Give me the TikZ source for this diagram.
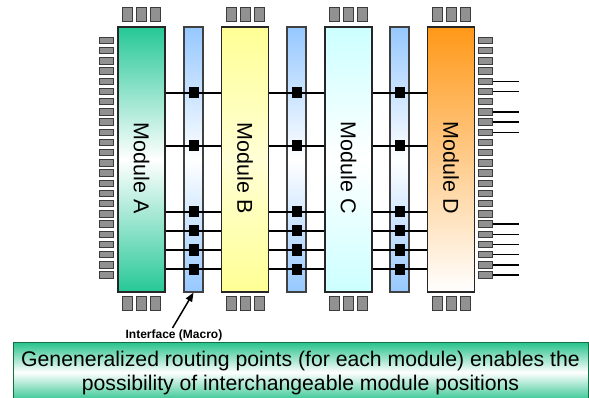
\documentclass[tikz,border=0pt]{standalone}
\usepackage{fontspec}
\setmainfont{Liberation Sans}
\usetikzlibrary{arrows.meta}
\definecolor{modgreen}{RGB}{38,200,150}
\definecolor{modyellow}{RGB}{255,255,150}
\definecolor{modcyan}{RGB}{204,255,255}
\definecolor{modorange}{RGB}{255,152,24}
\definecolor{ifblue}{RGB}{150,200,255}
\definecolor{padgray}{RGB}{145,145,145}
\definecolor{padedge}{RGB}{60,60,60}
\definecolor{boxgreen}{RGB}{40,195,140}
\definecolor{boxedge}{RGB}{20,110,70}
\tikzset{
  module/.style={draw=black!85, line width=1.1pt, minimum width=47pt, minimum height=265pt, inner sep=0pt},
  iface/.style={draw=black!75, line width=1.1pt, minimum width=19pt, minimum height=265pt, inner sep=0pt, top color=ifblue, bottom color=ifblue, middle color=white},
  modlabel/.style={rotate=-90, font=\fontsize{21.5}{21.5}\selectfont, inner sep=0pt},
  tpad/.style={draw=padedge, fill=padgray, line width=1pt, minimum width=10pt, minimum height=14pt, inner sep=0pt},
  spad/.style={draw=padedge, fill=padgray, line width=1pt, minimum width=14pt, minimum height=6.5pt, inner sep=0pt},
  rpt/.style={fill=black, minimum width=10pt, minimum height=11pt, inner sep=0pt},
  route/.style={line width=1.4pt, black},
  padline/.style={line width=1.4pt, black},
  boxtext/.style={font=\fontsize{21.2}{21.2}\selectfont, anchor=base, inner sep=0pt}
}
\begin{document}
\begin{tikzpicture}[x=1pt,y=-1pt]
\useasboundingbox (0,0) rectangle (589,398);
% modules
\node[module, top color=modgreen, bottom color=modgreen, middle color=white] (A) at (141.5,159.5) {};
\node[module, top color=modyellow, bottom color=modyellow, middle color=white!60!modyellow] (B) at (245,159.5) {};
\node[module, top color=modcyan, bottom color=modcyan, middle color=white] (C) at (348.5,159.5) {};
\node[module, top color=modorange, bottom color=white] (D) at (451,159.5) {};
% interfaces
\node[iface] (I1) at (193.5,159.5) {};
\node[iface] (I2) at (296.5,159.5) {};
\node[iface] (I3) at (399.5,159.5) {};
% labels
\node[modlabel] (LA) at (141.5,168) {Module A};
\node[modlabel] (LB) at (245,168) {Module B};
\node[modlabel] (LC) at (348.5,168) {Module C};
\node[modlabel] (LD) at (451,168) {Module D};
% top and bottom pads
\foreach \m/\cx in {A/141.5,B/245,C/348.5,D/451}{
  \foreach \k/\dx in {1/-14,2/0,3/14}{
    \node[tpad] (t\m\k) at (\cx+\dx,14.5) {};
    \node[tpad] (b\m\k) at (\cx+\dx,303.5) {};
  }
}
% side pads
\foreach \i in {0,...,23}{
  \node[spad] (lp\i) at (106.5,40.5+10.2*\i) {};
  \node[spad] (rp\i) at (485.5,40.5+10.2*\i) {};
}
\foreach \i in {4,5,7,8,9,18,19,20,21,22,23}{
  \coordinate (re\i) at (519,40.5+10.2*\i);
  \draw[padline] (rp\i.east) -- (re\i);
}
% routing lines and points
\foreach \j/\y in {1/93,2/146,3/212,4/231,5/250,6/269}{
  \node[rpt] (p1\j) at (193.5,\y) {};
  \node[rpt] (p2\j) at (296.5,\y) {};
  \node[rpt] (p3\j) at (399.5,\y) {};
  \draw[route] (A.east |- p1\j) -- (B.west |- p1\j);
  \draw[route] (B.east |- p2\j) -- (C.west |- p2\j);
  \draw[route] (C.east |- p3\j) -- (D.west |- p3\j);
  \node[rpt] at (p1\j) {};
  \node[rpt] at (p2\j) {};
  \node[rpt] at (p3\j) {};
}
% interface annotation
\node[font=\bfseries\fontsize{12}{12}\selectfont, inner sep=1pt] (ilabel) at (174,335.5) {Interface (Macro)};
\coordinate (astart) at (172.5,328);
\draw[line width=1.5pt, -{Triangle[length=9pt,width=7pt]}] (astart) -- (I1.south);
% bottom box
\path[draw=boxedge, line width=1pt, top color=boxgreen, bottom color=boxgreen, middle color=white] (13.5,342.5) rectangle (588.3,402);
\node[boxtext] (bl1) at (300.5,366.5) {Geneneralized routing points (for each module) enables the};
\node[boxtext] (bl2) at (300.5,390.5) {possibility of interchangeable module positions};
\end{tikzpicture}
\end{document}
